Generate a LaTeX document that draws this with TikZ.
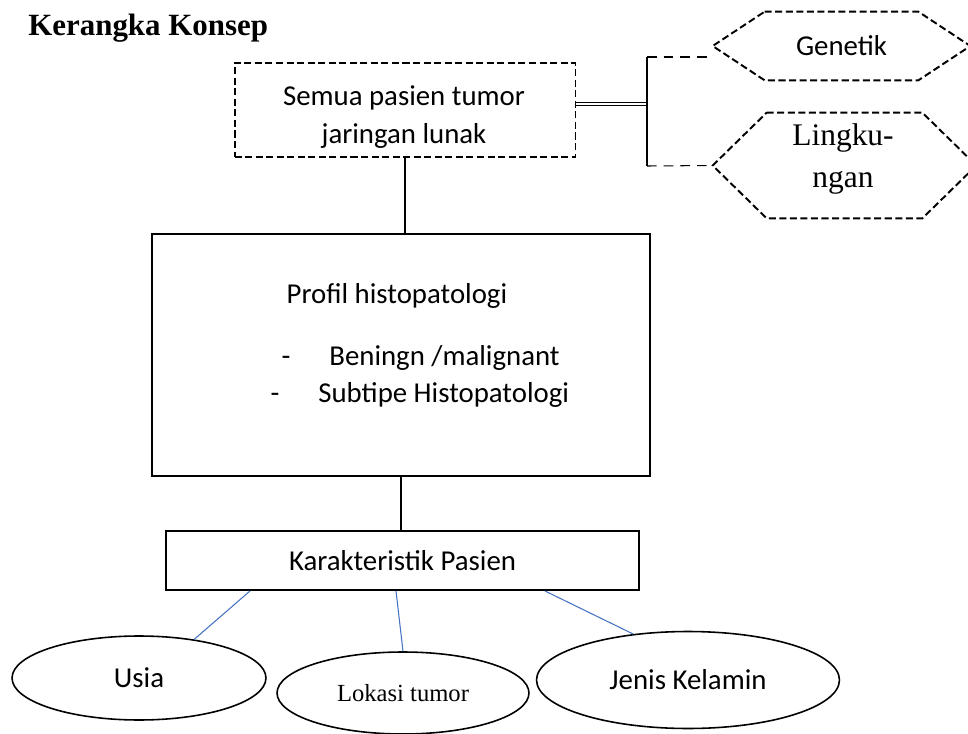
\documentclass[tikz,border=0pt]{standalone}
\usepackage{fontspec}
\setmainfont{Liberation Serif}
\newfontfamily\calibri{Carlito}
\usetikzlibrary{positioning, shapes.geometric}
\definecolor{linkblue}{HTML}{4472C4}

\begin{document}
\begin{tikzpicture}[
    x=0.02cm, y=-0.02cm,
    box/.style={draw, rectangle, line width=1.1pt, inner sep=0pt},
    dashbox/.style={box, dash pattern=on 4pt off 2pt},
    hexline/.style={line width=1.1pt, dash pattern=on 4pt off 2pt},
    oval/.style={draw, ellipse, line width=0.9pt, inner sep=0pt},
    txt/.style={font=\calibri\fontsize{16.4}{21.5}\selectfont, align=center, inner sep=0pt},
    serif/.style={font=\fontsize{17.9}{23.8}\selectfont, align=center, inner sep=0pt},
    link/.style={line width=0.6pt},
    bluelink/.style={line width=0.6pt, draw=linkblue}
]
\useasboundingbox (0,0) rectangle (968,734);

% Title
\node[anchor=base west, inner sep=0pt, font=\bfseries\fontsize{17.6}{20}\selectfont] (title) at (28,35) {Kerangka Konsep};

% Main column
\node[dashbox, minimum width=6.82cm, minimum height=1.88cm] (semua) at (405,110) {};
\node[txt, font=\calibri\fontsize{16.4}{22}\selectfont] (semuatext) at (404,117) {Semua pasien tumor\\jaringan lunak};
\node[box, minimum width=9.96cm, minimum height=4.84cm] (profil) at (401,355) {};
\node[txt, anchor=base] (proftitle) at (397,303) {Profil histopatologi};
\node[txt, anchor=base] (dash1) at (286,365) {-};
\node[txt, anchor=base west] (item1) at (329,365) {Beningn /malignant};
\node[txt, anchor=base] (dash2) at (275,402) {-};
\node[txt, anchor=base west] (item2) at (318,402) {Subtipe Histopatologi};
\node[box, txt, minimum width=9.46cm, minimum height=1.18cm] (kar) at (402.5,560.5) {Karakteristik Pasien};

% Ovals
\node[oval, txt, minimum width=5.08cm, minimum height=1.68cm] (usia) at (139,678) {Usia};
\node[oval, font=\fontsize{14}{16}\selectfont, minimum width=5.04cm, minimum height=1.64cm] (lokasi) at (403,693) {Lokasi tumor};
\node[oval, txt, minimum width=6.06cm, minimum height=1.94cm] (jenis) at (688,680) {Jenis Kelamin};

% Hexagons
\node[txt, minimum width=3.06cm, minimum height=1.36cm] (gen) at (841.5,46) {Genetik};
\node[minimum width=3.1cm, minimum height=2.1cm, inner sep=0pt] (ling) at (844.5,165.5) {};
\node[serif] (lingtext) at (843,159) {Lingku-\\ngan};
\draw[hexline] (gen.north west) -- (gen.north east) -- ([xshift=1.04cm]gen.east) -- (gen.south east) -- (gen.south west) -- ([xshift=-1.04cm]gen.west) -- cycle;
\draw[hexline] (ling.north west) -- (ling.north east) -- ([xshift=1.08cm]ling.east) -- (ling.south east) -- (ling.south west) -- ([xshift=-1.08cm]ling.west) -- cycle;

% Bracket to the factors
\coordinate (brk) at (647,104);
\coordinate (brtop) at (647,57);
\coordinate (brbot) at (647,166);
\coordinate (gentip) at (713,57);
\draw[link, line width=0.5pt, double, double distance=1.2pt] (semua.east |- brk) -- (brk);
\draw[link] (brtop) -- (brbot);
\draw[link, dash pattern=on 5.5pt off 4pt] (brtop) -- (gentip);
\draw[link, dash pattern=on 5.5pt off 4pt] (brbot) -- ([xshift=-1.08cm]ling.west);

% Column links
\draw[link] (semua.south) -- (semua.south |- profil.north);
\draw[link] (profil.south) -- (profil.south |- kar.north);

% Blue links to the ovals
\draw[bluelink] ([xshift=-3.05cm]kar.south) -- (usia.35);
\draw[bluelink] ([xshift=-0.13cm]kar.south) -- (lokasi.north);
\draw[bluelink] ([xshift=2.85cm]kar.south) -- (jenis.140);

\end{tikzpicture}
\end{document}
